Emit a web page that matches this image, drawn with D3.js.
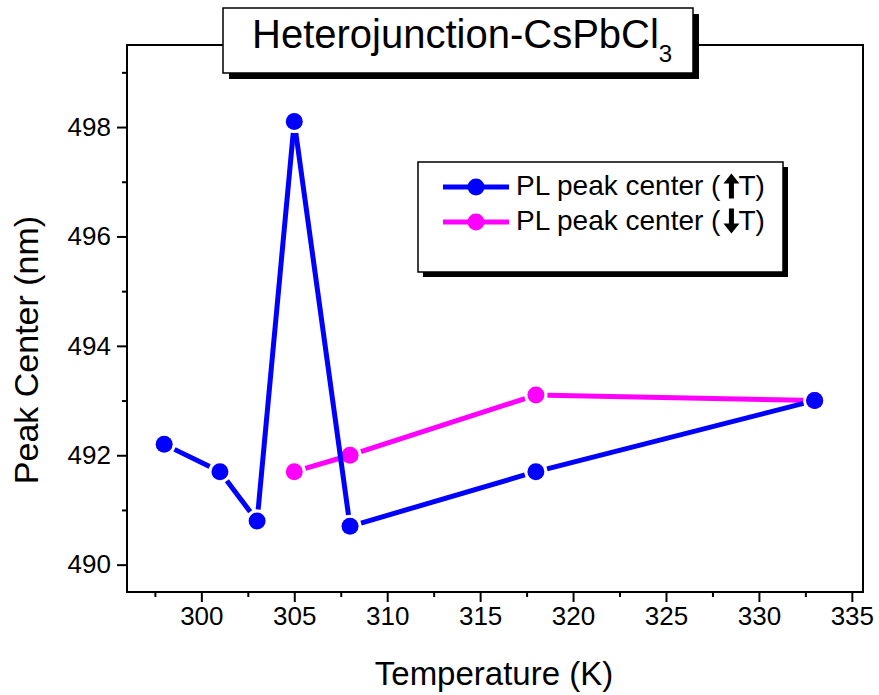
<!DOCTYPE html>
<html>
<head>
<meta charset="utf-8">
<script src="https://cdn.jsdelivr.net/npm/d3@7"></script>
<style>
  html, body { margin: 0; padding: 0; background: #fff; }
  svg { display: block; font-family: Arial, "Liberation Sans", sans-serif; }
</style>
</head>
<body>
<svg id="chart" width="879" height="695"></svg>
<script>
// Peak centre vs temperature, heating and cooling sweeps
const heatTemp = [298, 301, 303, 305, 308, 318, 333];
const heatPeak = [492.2, 491.7, 490.8, 498.1, 490.7, 491.7, 493.0];
const coolTemp = [305, 308, 318, 333];
const coolPeak = [491.7, 492.0, 493.1, 493.0];
const xTicks = [300, 305, 310, 315, 320, 325, 330, 335];
const yTicks = [490, 492, 494, 496, 498];
const seriesNames = ["PL peak center (", "PL peak center ("];

const svg = d3.select("#chart");
const plotL = 127, plotR = 863, plotT = 45, plotB = 592;

const x = d3.scaleLinear().domain([296, 335.6]).range([plotL, plotR]);
const y = d3.scaleLinear().domain([489.5, 499.5]).range([plotB, plotT]);

// axes: major ticks outward with labels, minor ticks between
const xAxis = d3.axisBottom(x).tickValues(xTicks).tickSize(10).tickSizeOuter(0).tickPadding(5);
const xMinor = d3.axisBottom(x).tickValues(d3.range(297.5, 336, 5)).tickSize(5).tickSizeOuter(0).tickFormat("");
const yAxis = d3.axisLeft(y).tickValues(yTicks).tickSize(10).tickSizeOuter(0).tickPadding(6);
const yMinor = d3.axisLeft(y).tickValues(d3.range(491, 500, 2)).tickSize(5).tickSizeOuter(0).tickFormat("");

function styleAxis(g) {
  g.attr("font-size", null).attr("font-family", null);
  g.select(".domain").remove();
  g.selectAll("line").attr("stroke", "#000").attr("stroke-width", 2);
  g.selectAll("text").style("font-size", "26px").attr("fill", "#000")
    .style("font-family", "Arial, 'Liberation Sans', sans-serif");
}
svg.append("g").attr("transform", `translate(0,${plotB})`).call(xAxis).call(styleAxis);
svg.append("g").attr("transform", `translate(0,${plotB})`).call(xMinor).call(styleAxis);
svg.append("g").attr("transform", `translate(${plotL},0)`).call(yAxis).call(styleAxis);
svg.append("g").attr("transform", `translate(${plotL},0)`).call(yMinor).call(styleAxis);

// plot frame
svg.append("rect").attr("x", plotL).attr("y", plotT).attr("width", plotR - plotL).attr("height", plotB - plotT)
  .attr("fill", "none").attr("stroke", "#000").attr("stroke-width", 2);

// axis titles
svg.append("text").attr("x", 494).attr("y", 685).attr("text-anchor", "middle")
  .style("font-size", "33px").text("Temperature (K)");
svg.append("text").attr("transform", "translate(38,350) rotate(-90)")
  .attr("text-anchor", "middle").style("font-size", "34px").text("Peak Center (nm)");

// line with gaps around the markers, then markers
const R = 8.5, GAP = 3;
function drawSeries(xs, ys, color) {
  const pts = xs.map((t, i) => [x(t), y(ys[i])]);
  const g = svg.append("g");
  for (let i = 0; i < pts.length - 1; i++) {
    const [x0, y0] = pts[i], [x1, y1] = pts[i + 1];
    const len = Math.hypot(x1 - x0, y1 - y0);
    const ux = (x1 - x0) / len, uy = (y1 - y0) / len;
    const off = R + GAP;
    if (len <= 2 * off) continue;
    g.append("line")
      .attr("x1", x0 + ux * off).attr("y1", y0 + uy * off)
      .attr("x2", x1 - ux * off).attr("y2", y1 - uy * off)
      .attr("stroke", color).attr("stroke-width", 5);
  }
  g.selectAll("circle").data(pts).join("circle")
    .attr("cx", d => d[0]).attr("cy", d => d[1]).attr("r", R).attr("fill", color);
}
drawSeries(coolTemp, coolPeak, "#ff00ff");
drawSeries(heatTemp, heatPeak, "#0000ff");

// legend box with drop shadow
const lg = svg.append("g");
lg.append("rect").attr("x", 423).attr("y", 167).attr("width", 365).attr("height", 110).attr("fill", "#000");
lg.append("rect").attr("x", 418).attr("y", 162).attr("width", 365).attr("height", 110)
  .attr("fill", "#fff").attr("stroke", "#000").attr("stroke-width", 1.5);

function arrow(cx, cy, dir) {
  // filled block arrow; dir = -1 points up, 1 points down
  const h = 10, w = 8, shaft = 2.5;
  const tip = cy + dir * 12.5, base = tip - dir * h, tail = cy - dir * 12.5;
  return `M${cx},${tip} L${cx - w},${base} L${cx - shaft},${base} L${cx - shaft},${tail} ` +
         `L${cx + shaft},${tail} L${cx + shaft},${base} L${cx + w},${base} Z`;
}
const legendRows = [
  { name: seriesNames[0], color: "#0000ff", dir: -1, yy: 187 },
  { name: seriesNames[1], color: "#ff00ff", dir: 1, yy: 222 }
];
legendRows.forEach(r => {
  lg.append("line").attr("x1", 443).attr("x2", 509).attr("y1", r.yy).attr("y2", r.yy)
    .attr("stroke", r.color).attr("stroke-width", 5);
  lg.append("circle").attr("cx", 476).attr("cy", r.yy).attr("r", R).attr("fill", r.color);
  const t = lg.append("text").attr("x", 516).attr("y", r.yy + 8).style("font-size", "28px").text(r.name);
  const w = t.node().getComputedTextLength();
  const ax = 516 + w + 11;
  lg.append("path").attr("d", arrow(ax, r.yy - 1, r.dir)).attr("fill", "#000");
  lg.append("text").attr("x", ax + 7).attr("y", r.yy + 8).style("font-size", "28px").text("T)");
});

// title box with drop shadow
const tg = svg.append("g");
tg.append("rect").attr("x", 229).attr("y", 14).attr("width", 470).attr("height", 65).attr("fill", "#000");
tg.append("rect").attr("x", 223).attr("y", 8).attr("width", 470).attr("height", 65)
  .attr("fill", "#fff").attr("stroke", "#000").attr("stroke-width", 1.5);
const title = tg.append("text").attr("x", 252).attr("y", 48).style("font-size", "40px");
title.append("tspan").text("Heterojunction-CsPbCl");
title.append("tspan").style("font-size", "24px").attr("dy", 14).text("3");
</script>
</body>
</html>
